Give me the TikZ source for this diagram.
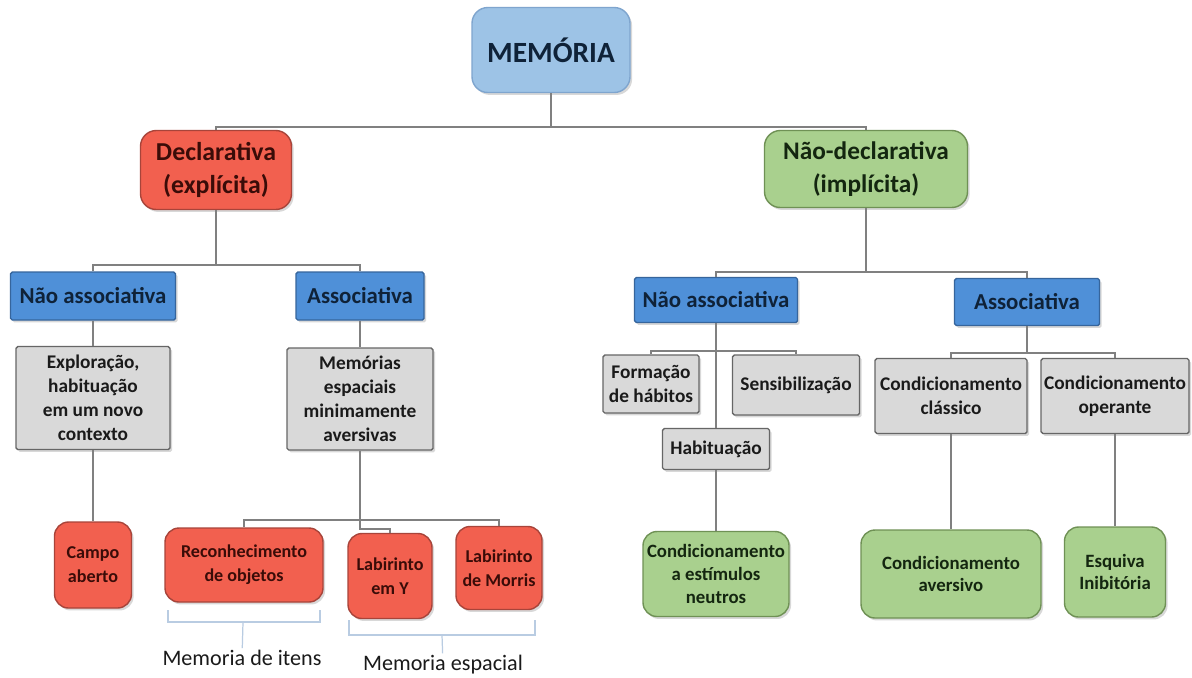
\documentclass[tikz,border=0pt]{standalone}
\usepackage{fontspec}
\setmainfont{Carlito}
\usetikzlibrary{shadows}
\definecolor{memfill}{HTML}{9DC3E6}
\definecolor{memdraw}{HTML}{7FA5CE}
\definecolor{redfill}{HTML}{F2604F}
\definecolor{reddraw}{HTML}{A8443A}
\definecolor{greenfill}{HTML}{A9D08E}
\definecolor{greendraw}{HTML}{6F9155}
\definecolor{bluefill}{HTML}{4F90D8}
\definecolor{bluedraw}{HTML}{36659C}
\definecolor{grayfill}{HTML}{D9D9D9}
\definecolor{graydraw}{HTML}{666666}
\definecolor{linkgray}{HTML}{808080}
\definecolor{brkblue}{HTML}{B9CCE2}
\definecolor{ink}{HTML}{1A1A1A}
\definecolor{blueink}{HTML}{0F2238}
\definecolor{redink}{HTML}{3A0C08}
\definecolor{greenink}{HTML}{142610}

\begin{document}
\begin{tikzpicture}[x={(0.02cm,0)}, y={(0,-0.02cm)},
	sz/.style 2 args={minimum width=#1*0.02cm, minimum height=#2*0.02cm},
	box/.style={draw, align=center, inner sep=1pt, line width=0.8pt, drop shadow={shadow xshift=1.2pt, shadow yshift=-1.4pt, opacity=0.3}},
	membox/.style={box, fill=memfill, draw=memdraw, rounded corners=9pt, text=blueink, font=\bfseries\fontsize{16.7}{20}\selectfont},
	redbig/.style={box, fill=redfill, draw=reddraw, rounded corners=9pt, text=redink, font=\bfseries\fontsize{14.7}{18.7}\selectfont},
	greenbig/.style={box, fill=greenfill, draw=greendraw, rounded corners=9pt, text=greenink, font=\bfseries\fontsize{14.4}{18.7}\selectfont},
	redbox/.style={box, fill=redfill, draw=reddraw, rounded corners=8pt, text=redink, font=\bfseries\fontsize{10.3}{13.6}\selectfont},
	greenbox/.style={box, fill=greenfill, draw=greendraw, rounded corners=8pt, text=greenink, font=\bfseries\fontsize{10.7}{13}\selectfont},
	bluebox/.style={box, fill=bluefill, draw=bluedraw, rounded corners=1pt, text=blueink, font=\bfseries\fontsize{13}{16}\selectfont},
	graybox/.style={box, fill=grayfill, draw=graydraw, rounded corners=1pt, text=ink, font=\bfseries\fontsize{11}{13.6}\selectfont},
	link/.style={draw=linkgray, line width=0.75pt},
	brk/.style={draw=brkblue, line width=0.7pt},
	note/.style={inner sep=1pt, text=ink, font=\fontsize{12.6}{15}\selectfont}]
	\fill[white] (0,0) rectangle (1192,677);
	\useasboundingbox (0,0) rectangle (1192,677);

	\node[membox, sz={158}{85}] (mem) at (551,50) {MEMÓRIA};
	\node[redbig, sz={151}{79}] (decl) at (216,170) {Declarativa\\(explícita)};
	\node[greenbig, sz={203}{77}] (ndecl) at (866,169) {Não-declarativa\\(implícita)};
	\coordinate (j1) at (551,127);

	\node[bluebox, sz={165}{48}] (na1) at (93,296) {Não associativa};
	\node[bluebox, sz={128}{48}] (as1) at (360,296) {Associativa};
	\coordinate (j2) at (216,265);
	\node[graybox, sz={154}{103}] (expl) at (93,398) {Exploração,\\habituação\\em um novo\\contexto};
	\node[graybox, sz={146}{102}] (memesp) at (360,399) {Memórias\\espaciais\\minimamente\\aversivas};

	\node[redbox, sz={77}{86}] (campo) at (93,565) {Campo\\aberto};
	\node[redbox, sz={158}{74}] (recon) at (244,565) {Reconhecimento\\de objetos};
	\node[redbox, sz={84}{85}] (laby) at (390,576) {Labirinto\\em Y};
	\node[redbox, sz={86}{83}] (morris) at (499,568) {Labirinto\\de Morris};
	\coordinate (j3) at (360,520);
	\coordinate (jy) at (360,529);

	\node[bluebox, sz={163}{45}] (na2) at (716,300) {Não associativa};
	\node[bluebox, sz={145}{47}] (as2) at (1027,302) {Associativa};
	\coordinate (j4) at (866,272);
	\node[graybox, sz={96}{58}] (form) at (651,384) {Formação\\de hábitos};
	\node[graybox, sz={127}{60}] (sens) at (796,385) {Sensibilização};
	\node[graybox, sz={107}{41}] (hab) at (716,449) {Habituação};
	\coordinate (j5) at (716,351);
	\node[graybox, sz={152}{75}] (cclas) at (951,396) {Condicionamento\\clássico};
	\node[graybox, sz={148}{75}] (coper) at (1115,396) {Condicionamento\\operante};
	\coordinate (j6) at (1027,353);

	\node[greenbox, sz={146}{85}] (cneut) at (716,574) {Condicionamento\\a estímulos\\neutros};
	\node[greenbox, sz={180}{88}] (cavers) at (951,574) {Condicionamento\\aversivo};
	\node[greenbox, sz={101}{90}] (esq) at (1115,572) {Esquiva\\Inibitória};

	\node[note] (itens) at (242,658) {Memoria de itens};
	\node[note] (espac) at (443,665) {Memoria espacial};

	\draw[link] (mem) -- (j1);
	\draw[link] (decl) |- (j1) -| (ndecl);
	\draw[link] (decl) -- (j2);
	\draw[link] (na1) |- (j2) -| (as1);
	\draw[link] (na1) -- (expl);
	\draw[link] (as1) -- (memesp);
	\draw[link] (expl) -- (campo);
	\draw[link] (memesp) -- (jy) -| (laby);
	\draw[link] (recon) |- (j3) -| (morris);
	\draw[link] (ndecl) -- (j4);
	\draw[link] (na2) |- (j4) -| (as2);
	\draw[link] (na2) -- (hab);
	\draw[link] (form) |- (j5) -| (sens);
	\draw[link] (hab) -- (cneut);
	\draw[link] (as2) -- (j6);
	\draw[link] (cclas) |- (j6) -| (coper);
	\draw[link] (cclas) -- (cavers);
	\draw[link] (coper) -- (esq);

	\draw[brk] (168,610) |- (320,622) -- (320,610);
	\draw[brk] (243,622) -- (itens);
	\draw[brk] (349,620) |- (535,635) -- (535,620);
	\draw[brk] (442,635) -- (espac);
\end{tikzpicture}
\end{document}
